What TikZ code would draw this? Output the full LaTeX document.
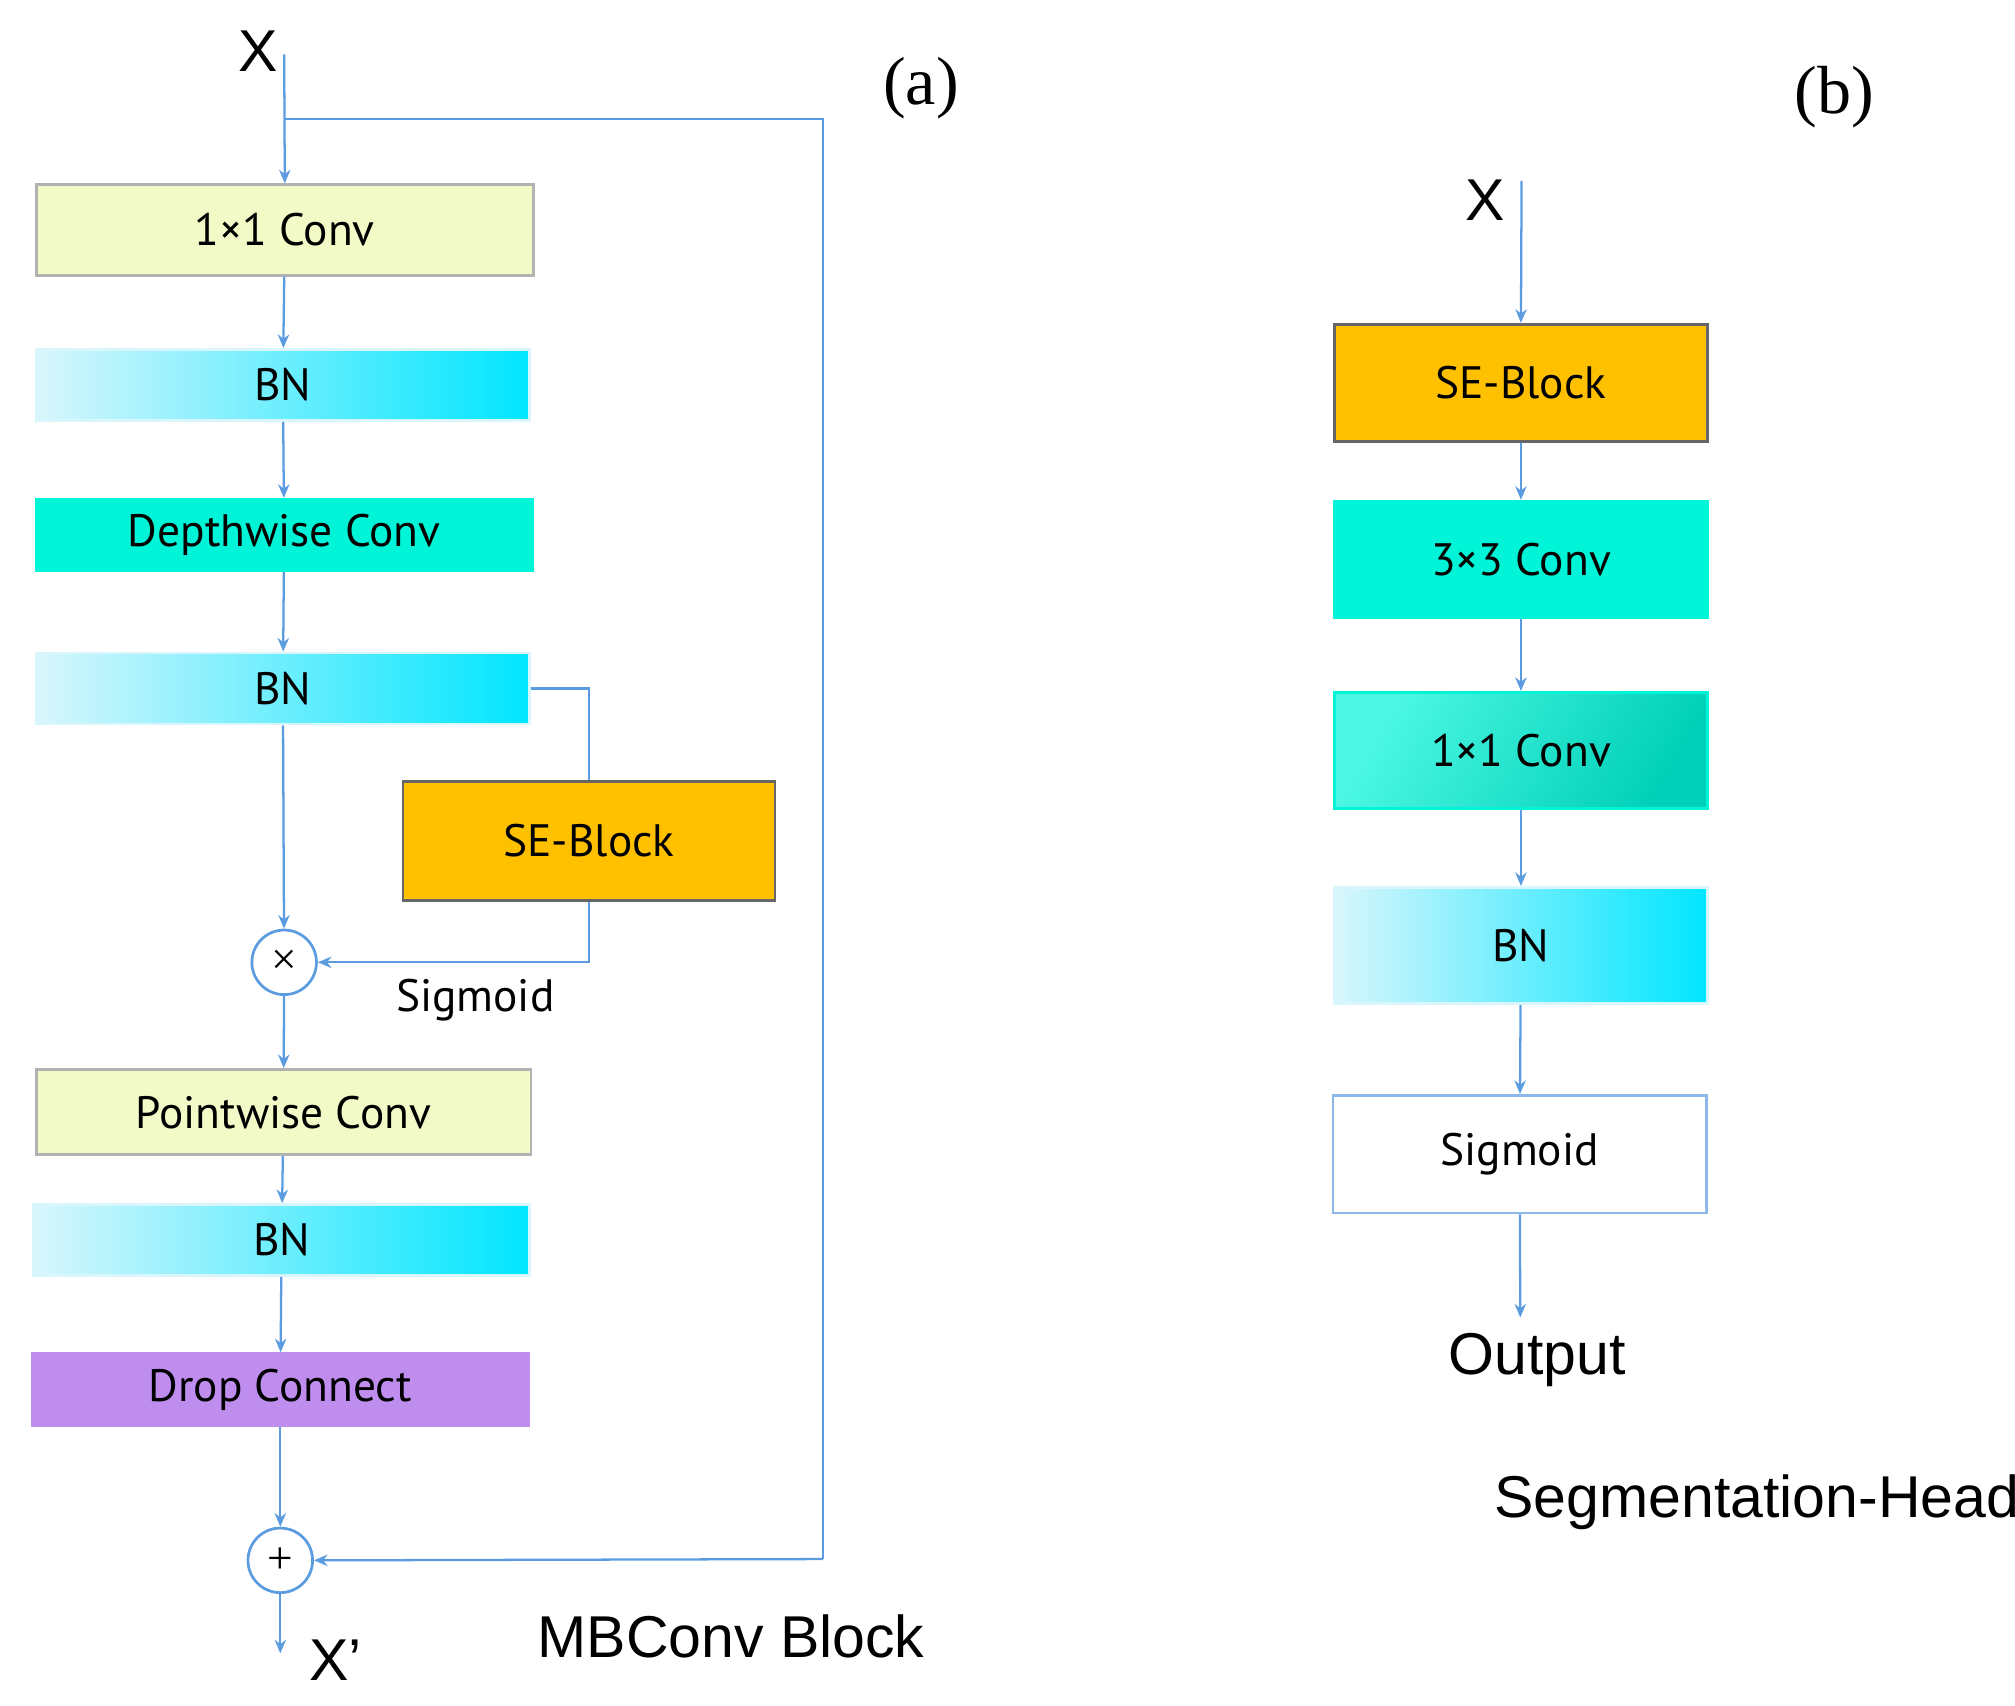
\documentclass[tikz,border=0pt]{standalone}
\usepackage{fontspec}
\setmainfont{Liberation Serif}
\newfontfamily\boxfont{PT Sans}
\newfontfamily\labfont{Liberation Sans}
\usetikzlibrary{arrows.meta}
\definecolor{wire}{HTML}{5B9BE0}
\definecolor{lime}{HTML}{F2FAC8}
\definecolor{teal}{HTML}{00F5D8}
\definecolor{seorange}{HTML}{FFC000}
\definecolor{purp}{HTML}{BE8DEE}
\definecolor{bnleft}{HTML}{D8F6FC}
\definecolor{bnright}{HTML}{00E6FF}
\begin{document}
\begin{tikzpicture}[x=0.1mm,y=-0.1mm,
  box/.style={draw=#1, line width=0.6pt, inner sep=0pt, font=\boxfont\fontsize{10}{12}\selectfont},
  box/.default={gray!60},
  wire/.style={draw=wire, line width=0.5pt},
  arr/.style={wire, -{Stealth[length=3pt,width=2.5pt]}},
  op/.style={circle, draw=wire, line width=0.6pt, fill=white, minimum size=5mm, inner sep=0pt},
  big/.style={font=\labfont\fontsize{13}{15}\selectfont}]
\useasboundingbox (0,0) rectangle (1560,1320);
% (a) MBConv block
\node[big] (xa) at (200,40) {X};
\coordinate (xatop) at (220,42);
\node[box, fill=lime, minimum width=38.5mm, minimum height=7mm] (c1) at (220.5,178) {1×1 Conv};
\node[box=bnleft, left color=bnleft, right color=bnright, minimum width=38.2mm, minimum height=5.5mm] (bn1) at (219,298) {BN};
\node[box=teal, fill=teal, minimum width=38.4mm, minimum height=5.5mm] (dw) at (220,414) {Depthwise Conv};
\node[box=bnleft, left color=bnleft, right color=bnright, minimum width=38.2mm, minimum height=5.5mm] (bn2) at (219,533) {BN};
\node[box=black!60, fill=seorange, minimum width=28.8mm, minimum height=9.2mm] (se) at (456,651) {SE-Block};
\node[op] (mul) at (220,745) {×};
\node[font=\boxfont\fontsize{10}{12}\selectfont] (sig) at (368,774) {Sigmoid};
\node[box, fill=lime, minimum width=38.3mm, minimum height=6.6mm] (pw) at (219.5,861) {Pointwise Conv};
\node[box=bnleft, left color=bnleft, right color=bnright, minimum width=38.4mm, minimum height=5.5mm] (bn3) at (218,960) {BN};
\node[box=purp, fill=purp, minimum width=38.4mm, minimum height=5.6mm] (dc) at (217,1076) {Drop Connect};
\node[op] (add) at (217,1208) {+};
\coordinate (out) at (217,1280);
\node[big] (xp) at (260,1285) {X’};
\node[big] (mbc) at (566,1267) {MBConv Block};
\node[font=\fontsize{15}{17}\selectfont] (la) at (713,68) {(a)};
\coordinate (split) at (220,92);
\draw[arr] (xatop) -- (c1.north);
\draw[wire] (split) -- (637,92) -- (637,1207) coordinate (rc);
\draw[arr] (rc) -- (add.east);
\draw[arr] (c1) -- (bn1);
\draw[arr] (bn1) -- (dw);
\draw[arr] (dw) -- (bn2);
\draw[arr] (bn2) -- (mul);
\draw[wire] (bn2.east) -| (se.north);
\draw[arr] (se.south) |- (mul.east);
\draw[arr] (mul) -- (pw);
\draw[arr] (pw) -- (bn3);
\draw[arr] (bn3) -- (dc);
\draw[arr] (dc) -- (add);
\draw[arr] (add) -- (out);
% (b) segmentation head
\node[font=\fontsize{15}{17}\selectfont] (lb) at (1420,75) {(b)};
\node[big] (xb) at (1150,155) {X};
\coordinate (xbtop) at (1178,140);
\node[box=black!60, fill=seorange, minimum width=28.9mm, minimum height=9.1mm] (se2) at (1177.5,296.5) {SE-Block};
\node[box=teal, fill=teal, minimum width=28.9mm, minimum height=9mm] (c33) at (1177.5,433) {3×3 Conv};
\node[box=teal, left color=teal!70!white, right color=teal!85!black, shading angle=60, minimum width=28.9mm, minimum height=9mm] (c11) at (1177.5,581) {1×1 Conv};
\node[box=bnleft, left color=bnleft, right color=bnright, minimum width=28.9mm, minimum height=9mm] (bn4) at (1177.5,732) {BN};
\node[box=wire!70, fill=white, minimum width=28.9mm, minimum height=9.1mm] (sg) at (1176.5,893.5) {Sigmoid};
\coordinate (outb) at (1177,1020);
\node[big] (ob) at (1190,1053) {Output};
\node[big] (sh) at (1360,1163) {Segmentation-Head};
\draw[arr] (xbtop) -- (se2.north);
\draw[arr] (se2) -- (c33);
\draw[arr] (c33) -- (c11);
\draw[arr] (c11) -- (bn4);
\draw[arr] (bn4) -- (sg);
\draw[arr] (sg) -- (outb);
\end{tikzpicture}
\end{document}
